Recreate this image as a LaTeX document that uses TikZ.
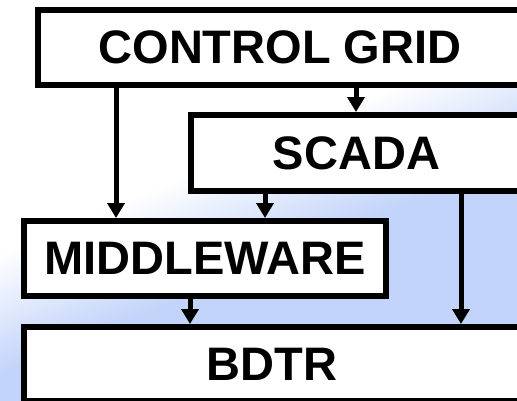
\documentclass[tikz,border=0pt]{standalone}
\usepackage{fontspec}
\setmainfont{Liberation Sans}
\usetikzlibrary{arrows.meta}
\definecolor{bgblue}{RGB}{194,212,250}
\definecolor{bgdeep}{RGB}{184,203,247}
\pgfdeclareverticalshading{bgfade}{100bp}{color(0bp)=(bgdeep); color(25bp)=(bgblue);
  color(43bp)=(bgblue); color(56bp)=(white); color(100bp)=(white)}

\begin{document}
\begin{tikzpicture}[x=1pt,y=-1pt,
    block/.style={draw=black, fill=white, line width=6pt, inner sep=0pt, outer sep=0pt,
      anchor=north west, font=\fontsize{47}{56}\bfseries\selectfont},
    flow/.style={line width=5pt, -{Triangle[width=17pt,length=15pt]}, shorten >=3pt}]
  \useasboundingbox (0,0) rectangle (517,400);

  % Background
  \shade[shading=bgfade, shading angle=23] (0,0) rectangle (517,400);

  % Control Grid
  \node[block, minimum width=484pt, minimum height=75pt] (grid) at (38,10) {CONTROL GRID};

  % SCADA
  \node[block, minimum width=331pt, minimum height=76pt] (scada) at (191,115) {SCADA};

  % Middleware
  \node[block, minimum width=362pt, minimum height=75pt] (mid) at (24,221) {MIDDLEWARE};

  % BDTR
  \node[block, minimum width=496pt, minimum height=74pt] (bdtr) at (24,327) {BDTR};

  % Data flow
  \draw[flow] ([xshift=78pt]grid.south west) -- ([xshift=92pt]mid.north west);
  \draw[flow] ([xshift=318pt]grid.south west) -- ([xshift=165pt]scada.north west);
  \draw[flow] ([xshift=74pt]scada.south west) -- ([xshift=241pt]mid.north west);
  \draw[flow] ([xshift=270pt]scada.south west) -- ([xshift=437pt]bdtr.north west);
  \draw[flow] ([xshift=166pt]mid.south west) -- ([xshift=166pt]bdtr.north west);
\end{tikzpicture}
\end{document}
